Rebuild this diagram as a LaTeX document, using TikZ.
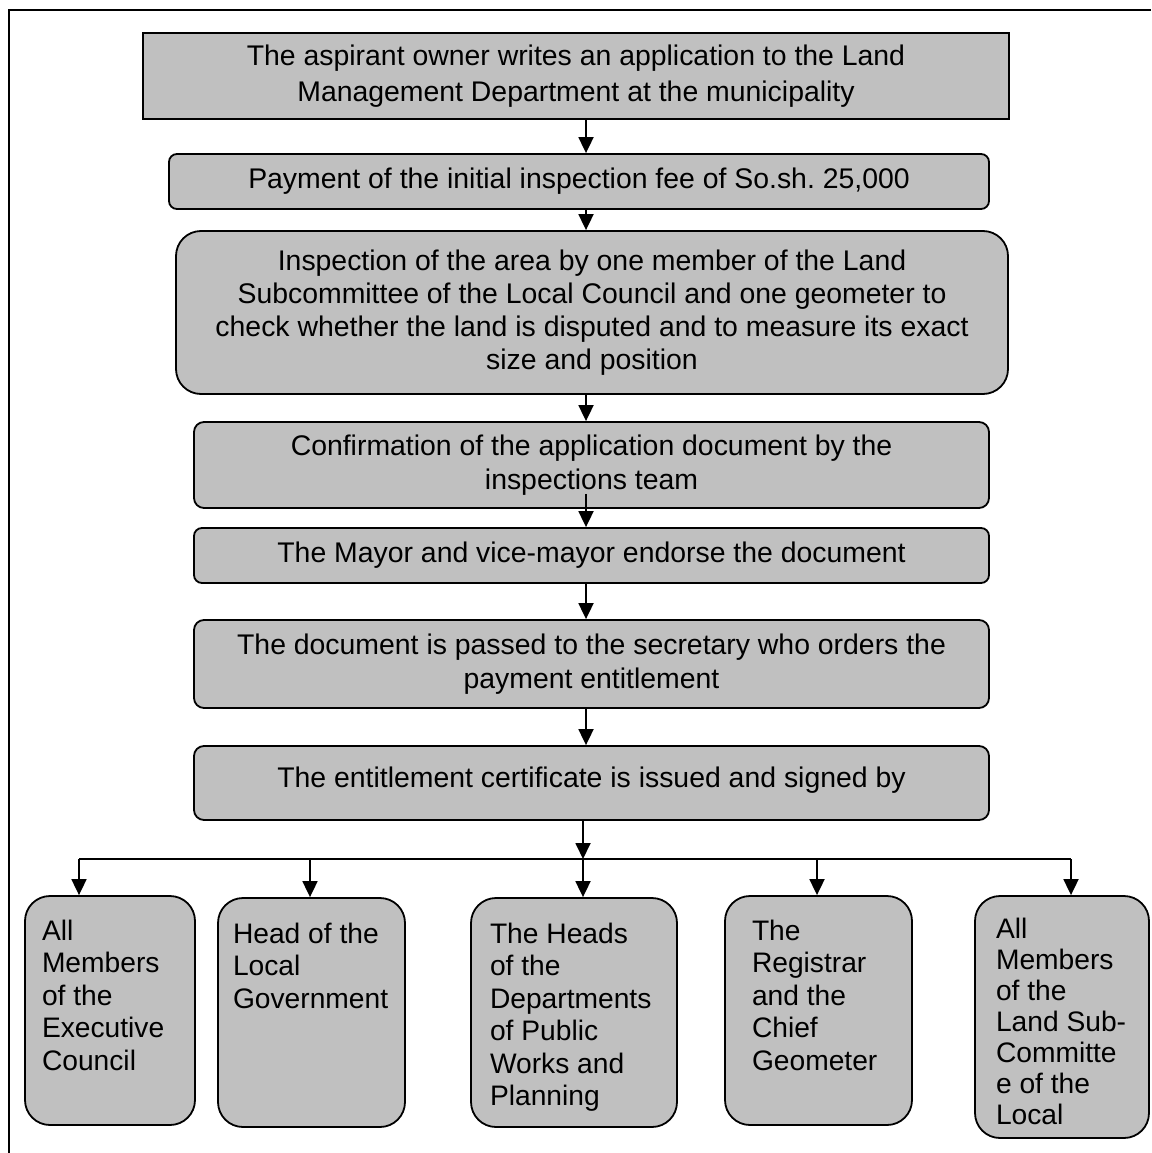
\documentclass[tikz,border=0pt]{standalone}
\usepackage{fontspec}
\setmainfont{Liberation Sans}
\usetikzlibrary{arrows.meta}
\definecolor{silver}{HTML}{C0C0C0}
\frenchspacing

\begin{document}
\begin{tikzpicture}[
    x=1pt, y=-1pt,
    every node/.style={font=\fontsize{28.4}{34}\selectfont},
    stepbox/.style={rectangle, draw, line width=1.8pt, fill=silver, align=center,
        inner sep=0pt, minimum width=795pt, rounded corners=10pt},
    leafbox/.style={rectangle, draw, line width=1.8pt, fill=silver,
        rounded corners=25pt, inner ysep=24pt, font=\fontsize{28.2}{32.5}\selectfont},
    arr/.style={line width=1.8pt, -{Triangle[length=16pt, width=15pt]}},
]
\useasboundingbox (0,0) rectangle (1151,1153);

% Frame
\draw[line width=2pt] (9,1153) -- (9,10) -- (1151,10);

% Main flow
\node[stepbox, sharp corners, minimum width=866pt, minimum height=86pt] (apply) at (576,76)
    {The aspirant owner writes an application to the Land\\[1.5pt]Management Department at the municipality};
\node[stepbox, minimum width=820pt, minimum height=55pt, rounded corners=8pt] (fee) at (579,181.5)
    {Payment of the initial inspection fee of So.sh. 25,000};
\node[stepbox, minimum width=832pt, minimum height=163pt, rounded corners=25pt, font=\fontsize{28.4}{33}\selectfont] (inspect) at (592,312.5)
    {Inspection of the area by one member of the Land\\Subcommittee of the Local Council and one geometer to\\check whether the land is disputed and to measure its exact\\size and position};
\node[stepbox, minimum height=86pt] (confirm) at (591.5,465)
    {Confirmation of the application document by the\\inspections team};
\node[stepbox, minimum height=55pt, rounded corners=8pt] (endorse) at (591.5,555.5)
    {The Mayor and vice-mayor endorse the document};
\node[stepbox, minimum height=88pt] (secretary) at (591.5,664)
    {The document is passed to the secretary who orders the\\payment entitlement};
\node[stepbox, minimum height=74pt, text depth=11pt] (certify) at (591.5,783)
    {The entitlement certificate is issued and signed by};

\coordinate (spine) at (586,0);
\path ([yshift=15pt]confirm.south) coordinate (confirmout);
\draw[arr] (apply.south -| spine) -- (fee.north -| spine);
\draw[arr] (fee.south -| spine) -- (inspect.north -| spine);
\draw[arr] (inspect.south -| spine) -- (confirm.north -| spine);
\draw[arr] (confirmout -| spine) -- (endorse.north -| spine);
\draw[arr] (endorse.south -| spine) -- (secretary.north -| spine);
\draw[arr] (secretary.south -| spine) -- (certify.north -| spine);

% Signatories
\node[leafbox, inner xsep=17pt] (exec) at (110,1010.5)
    {\parbox[c][181pt][t]{136pt}{All\\Members\\of the\\Executive\\Council}};
\node[leafbox, inner xsep=15pt, inner ysep=25pt] (localgov) at (311.5,1012.5)
    {\parbox[c][179pt][t]{157pt}{Head of the\\Local\\Government}};
\node[leafbox, inner xsep=19pt, inner ysep=25pt] (heads) at (574,1012.5)
    {\parbox[c][179pt][t]{168pt}{The Heads\\of the\\Departments\\of Public\\Works and\\Planning}};
\node[leafbox, inner xsep=27pt] (registrar) at (818.5,1010.5)
    {\parbox[c][181pt][t]{133pt}{The\\Registrar\\and the\\Chief\\Geometer}};
\node[leafbox, inner xsep=21pt, inner ysep=22pt] (landsub) at (1062,1017)
    {\parbox[c][198pt][t]{132pt}{\fontsize{28.2}{31}\selectfont All\\Members\\of the\\Land Sub-\\Committe\\e of the\\Local}};

% Distribution bar
\coordinate (tap1) at (79,859);
\coordinate (tap2) at (310,859);
\coordinate (tap3) at (583,859);
\coordinate (tap4) at (817,859);
\coordinate (tap5) at (1071,859);
\draw[arr] (certify.south -| tap3) -- (tap3);
\draw[line width=1.8pt] (tap1) -- (tap5);
\draw[arr] (tap1) -- (tap1 |- exec.north);
\draw[arr] (tap2) -- (tap2 |- localgov.north);
\draw[arr] (tap3) -- (tap3 |- heads.north);
\draw[arr] (tap4) -- (tap4 |- registrar.north);
\draw[arr] (tap5) -- (tap5 |- landsub.north);
\end{tikzpicture}
\end{document}
